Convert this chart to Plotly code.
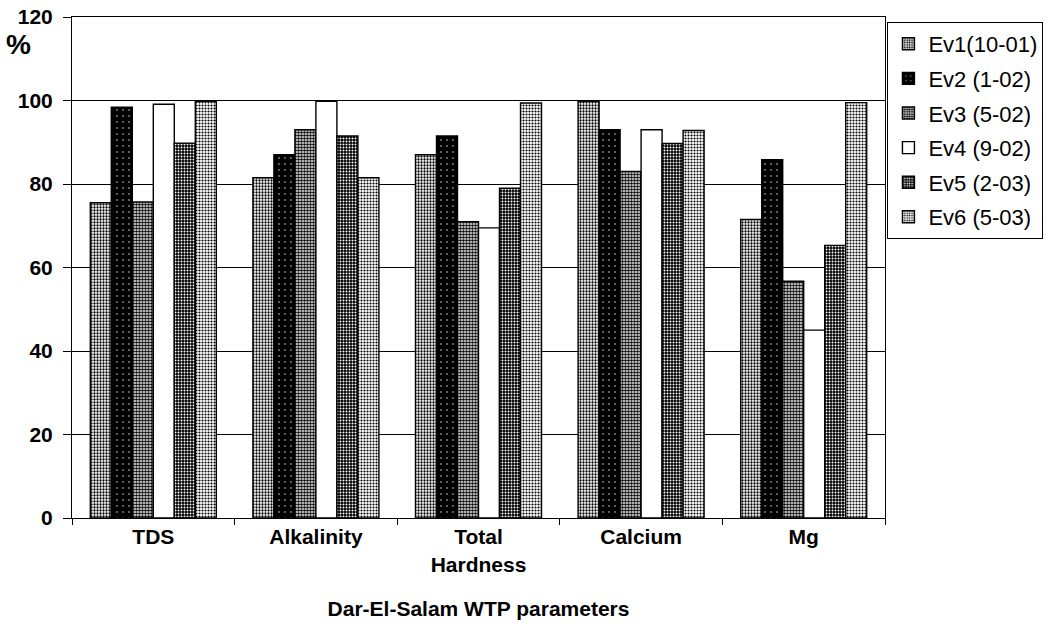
import plotly.graph_objects as go

# Parameters (categories) and removal percentages per evaluation run
categories = ["TDS", "Alkalinity", "Total<br>Hardness", "Calcium", "Mg"]
series_names = ["Ev1(10-01)", "Ev2 (1-02)", "Ev3 (5-02)", "Ev4 (9-02)", "Ev5 (2-03)", "Ev6 (5-03)"]

ev1 = [75.5, 81.5, 87.0, 99.8, 71.5]
ev2 = [98.4, 87.0, 91.5, 93.0, 85.8]
ev3 = [75.7, 93.0, 71.0, 83.0, 56.7]
ev4 = [99.1, 99.8, 69.5, 93.0, 45.0]
ev5 = [89.8, 91.5, 79.0, 89.7, 65.3]
ev6 = [99.8, 81.5, 99.4, 92.8, 99.5]

y_ticks = [0, 20, 40, 60, 80, 100, 120]

series_values = [ev1, ev2, ev3, ev4, ev5, ev6]

# Fill style for each run: (background, foreground dots, dot solidity)
styles = [
    dict(bgcolor="white", fgcolor="black", shape=".", size=3, solidity=0.45),
    dict(bgcolor="black", fgcolor="white", shape=".", size=6, solidity=0.04),
    dict(bgcolor="white", fgcolor="black", shape=".", size=3, solidity=0.6),
    None,
    dict(bgcolor="black", fgcolor="white", shape=".", size=3, solidity=0.35),
    dict(bgcolor="white", fgcolor="black", shape=".", size=3, solidity=0.38),
]

FONT = "Liberation Sans, Arial, sans-serif"

fig = go.Figure()
for i, (name, vals) in enumerate(zip(series_names, series_values)):
    st = styles[i]
    marker = dict(line=dict(color="black", width=1.4))
    if st is None:
        marker["color"] = "white"
    else:
        marker["color"] = st["bgcolor"]
        marker["pattern"] = dict(shape=st["shape"], fgcolor=st["fgcolor"], bgcolor=st["bgcolor"],
                                 size=st["size"], solidity=st["solidity"], fillmode="replace")
    fig.add_trace(go.Bar(x=categories, y=vals, name=name, marker=marker,
                         legendgroup=f"g{i}"))

fig.update_layout(
    width=1048, height=643,
    margin=dict(l=72, r=163, t=17, b=125, autoexpand=False),
    paper_bgcolor="white", plot_bgcolor="white",
    barmode="group", bargap=0.225, bargroupgap=0,
    font=dict(family=FONT, color="black"),
    legend=dict(x=1.003, y=0.99, xanchor="left", yanchor="top",
                bordercolor="black", borderwidth=1, bgcolor="white",
                font=dict(size=22, family=FONT, color="black"),
                tracegroupgap=3, itemwidth=30),
    showlegend=True,
)

fig.update_xaxes(
    type="category", tickson="boundaries", ticks="outside", ticklen=6,
    tickcolor="black", showline=True, linecolor="black", linewidth=1, mirror=True,
    tickfont=dict(size=21, weight="bold", family=FONT), automargin=False,
    title=dict(text="Dar-El-Salam WTP parameters", font=dict(size=21, weight="bold", family=FONT),
               standoff=26),
    showgrid=False,
)
fig.update_yaxes(
    range=[0, 120], tickvals=y_ticks, ticks="outside", ticklen=8, tickcolor="black",
    showline=True, linecolor="black", linewidth=1, mirror=True, automargin=False,
    showgrid=True, gridcolor="black", gridwidth=1, zeroline=False,
    tickfont=dict(size=21, weight="bold", family=FONT), ticklabelstandoff=6,
)

fig.add_annotation(text="%", xref="paper", yref="paper", x=-0.066, y=0.945,
                   xanchor="center", yanchor="middle", showarrow=False,
                   font=dict(size=28, weight="bold", family=FONT, color="black"))

fig.write_html("out.html")
